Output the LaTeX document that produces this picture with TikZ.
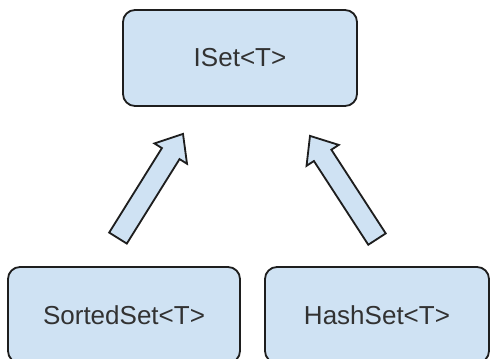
\documentclass[tikz,border=0pt]{standalone}
\usepackage{fontspec}
\setmainfont{Liberation Sans}
\usepackage{tikz}
\usetikzlibrary{calc}
\definecolor{boxblue}{RGB}{207,226,243}
\definecolor{edgegrey}{RGB}{30,30,30}
\definecolor{textgrey}{RGB}{50,50,50}

% hollow block arrow from #1 (tail) to #2 (tip)
\newcommand{\fatarrow}[2]{%
  \coordinate (neck) at ($(#2)!0.58cm!(#1)$);
  \draw[line width=1.3pt,edgegrey,fill=boxblue,line join=miter]
    ($(#1)!0.26cm!90:(#2)$) -- ($(neck)!0.26cm!90:(#2)$)
    -- ($(neck)!0.48cm!90:(#2)$) -- (#2)
    -- ($(neck)!0.48cm!-90:(#2)$) -- ($(neck)!0.26cm!-90:(#2)$)
    -- ($(#1)!0.26cm!-90:(#2)$) -- cycle;}

\begin{document}
\begin{tikzpicture}[
    setbox/.style={draw=edgegrey,line width=1.3pt,fill=boxblue,rounded corners=0.3cm,
      text=textgrey,font=\fontsize{18.5}{22}\selectfont,inner sep=0pt}]
        \useasboundingbox (0,0) rectangle (12.275,8.95);
        % Interface
        \node[setbox,minimum width=5.85cm,minimum height=2.4cm] (iset) at (6.0,7.5) {ISet<T>};
        % Implementations
        \node[setbox,minimum width=5.8cm,minimum height=2.4cm] (sorted) at (3.1,1.075) {SortedSet<T>};
        \node[setbox,minimum width=5.6cm,minimum height=2.4cm] (hash) at (9.425,1.075) {HashSet<T>};

        % Inheritance arrows
        \coordinate (sortedtail) at ($(sorted.north)+(-0.15,0.7)$);
        \coordinate (sortedtip) at ($(iset.south)+(-1.425,-0.675)$);
        \coordinate (hashtail) at ($(hash.north)+(0,0.675)$);
        \coordinate (hashtip) at ($(iset.south)+(1.75,-0.725)$);
        \fatarrow{sortedtail}{sortedtip}
        \fatarrow{hashtail}{hashtip}
      \end{tikzpicture}
\end{document}
